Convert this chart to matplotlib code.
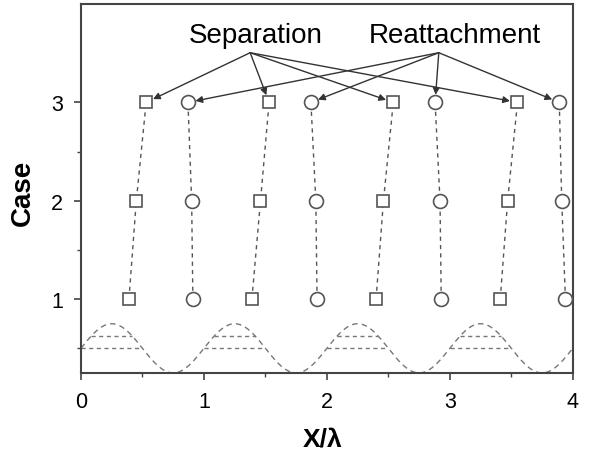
import numpy as np
import matplotlib
matplotlib.use("Agg")
import matplotlib.pyplot as plt

plt.rcParams["font.family"] = ["Liberation Sans", "DejaVu Sans"]

cases = [1, 2, 3]

# separation points (squares), one list per wave crest, ordered case 1..3
separation = [
    [0.39, 0.45, 0.53],
    [1.39, 1.46, 1.53],
    [2.40, 2.46, 2.54],
    [3.41, 3.47, 3.55],
]

# reattachment points (circles)
reattachment = [
    [0.91, 0.90, 0.87],
    [1.92, 1.91, 1.87],
    [2.93, 2.92, 2.88],
    [3.94, 3.91, 3.89],
]

# wavy wall: mean level, amplitude, number of wavelengths shown
wall_mean = 0.5
wall_amp = 0.25
n_waves = 4
crest_levels = [0.5, 0.625]

line_col = "#555555"
edge_col = "#555555"

fig = plt.figure(figsize=(5.89, 4.56), dpi=100)
ax = fig.add_axes([0.1375, 0.18, 0.835, 0.809])

# wall profile
xw = np.linspace(0, n_waves, 800)
yw = wall_mean + wall_amp * np.sin(2 * np.pi * xw)
ax.plot(xw, yw, ls=(0, (4, 3)), color="#777777", lw=1.0)

# horizontal levels under each crest, ending on the wall
for k in range(n_waves):
    for lev in crest_levels:
        s = (lev - wall_mean) / wall_amp
        x0 = np.arcsin(s) / (2 * np.pi)
        x1 = 0.5 - x0
        ax.plot([k + x0, k + x1], [lev, lev], ls=(0, (3, 2.5)),
                color="#777777", lw=1.0)

for xs in separation:
    ax.plot(xs, cases, ls=(0, (3, 3)), color=line_col, lw=1.0, zorder=2)
    ax.plot(xs, cases, ls="none", marker="s", ms=9, mfc="white",
            mec=edge_col, mew=1.2, zorder=3)

for xs in reattachment:
    ax.plot(xs, cases, ls=(0, (3, 3)), color=line_col, lw=1.0, zorder=2)
    ax.plot(xs, cases, ls="none", marker="o", ms=10, mfc="white",
            mec=edge_col, mew=1.2, zorder=3)

# labels with arrows to the case-3 points
arrow = dict(arrowstyle="-|>", color="#333333", lw=1.0,
             mutation_scale=10, shrinkA=0, shrinkB=5.5)
sep_src = (1.376, 3.505)
rea_src = (2.91, 3.505)
ax.text(1.417, 3.69, "Separation", fontsize=20, ha="center", va="center")
ax.text(3.04, 3.69, "Reattachment", fontsize=20, ha="center", va="center")
for xs in separation:
    ax.annotate("", xy=(xs[-1], cases[-1]), xytext=sep_src, arrowprops=arrow)
for xs in reattachment:
    ax.annotate("", xy=(xs[-1], cases[-1]), xytext=rea_src, arrowprops=arrow)

ax.set_xlim(0, 4)
ax.set_ylim(0.25, 4.0)
ax.set_xticks([0, 1, 2, 3, 4])
ax.set_yticks([1, 2, 3])
ax.set_xticks(np.arange(0.5, 4, 1.0), minor=True)
ax.set_yticks([0.5, 1.5, 2.5], minor=True)
ax.tick_params(which="major", direction="out", length=5, width=1.2,
               color="#444444", labelsize=15.5, pad=8)
ax.tick_params(which="minor", direction="out", length=3, width=1.0,
               color="#444444")
ax.tick_params(top=False, right=False, which="both")
for sp in ax.spines.values():
    sp.set_color("#444444")
    sp.set_linewidth(1.5)

ax.set_xlabel("X/\u03bb", fontsize=19, fontweight="bold")
ax.set_ylabel("Case", fontsize=20, fontweight="bold")
ax.xaxis.set_label_coords(0.492, -0.145)
ax.yaxis.set_label_coords(-0.092, 0.49)

fig.savefig("out.png", dpi=100)
